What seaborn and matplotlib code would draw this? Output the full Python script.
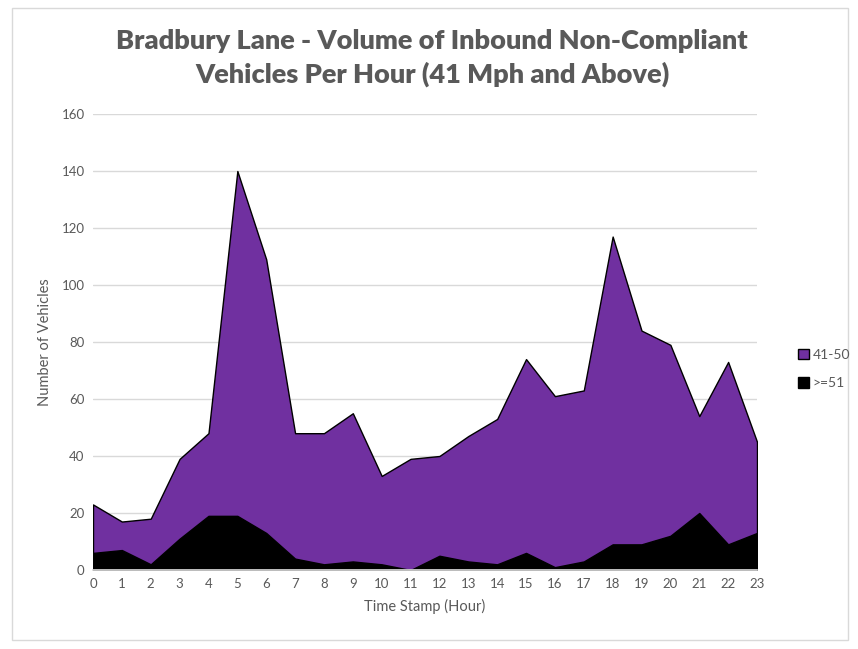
import matplotlib
matplotlib.use("Agg")
import matplotlib.pyplot as plt
import seaborn as sns
import numpy as np
import pandas as pd
from matplotlib.patches import Rectangle

hours = list(range(24))
total = [23, 17, 18, 39, 48, 140, 109, 48, 48, 55, 33, 39, 40, 47, 53, 74, 61, 63, 117, 84, 79, 54, 73, 45]
over51 = [6, 7, 2, 11, 19, 19, 13, 4, 2, 3, 2, 0, 5, 3, 2, 6, 1, 3, 9, 9, 12, 20, 9, 13]
s41_50 = [t - o for t, o in zip(total, over51)]
series_names = [">=51", "41-50"]
colors = ["#000000", "#7030A0"]

df = pd.DataFrame({"hour": hours, ">=51": over51, "41-50": s41_50})

sns.set_theme(style="white")
plt.rcParams['font.family'] = ['Lato', 'DejaVu Sans']

fig = plt.figure(figsize=(8.58, 6.49), dpi=100)
ax = fig.add_axes([93/858, 1-570/649, (757-93)/858, (570-114)/649])

ax.stackplot(df["hour"], df[">=51"], df["41-50"], colors=colors,
             labels=series_names, edgecolor="black", linewidth=1.0)

ax.set_xlim(0, 23)
ax.set_ylim(0, 160)
ax.set_yticks(range(0, 161, 20))
ax.set_xticks(hours)
ax.yaxis.grid(True, color="#d9d9d9", linewidth=1)
ax.set_axisbelow(True)
for s in ["top", "right", "left"]:
    ax.spines[s].set_visible(False)
ax.spines["bottom"].set_color("#d9d9d9")
ax.tick_params(axis="both", colors="#595959", labelsize=9.5, length=0, pad=6)

ax.set_xlabel("Time Stamp (Hour)", color="#595959", fontsize=10.5, labelpad=6)
ax.set_ylabel("Number of Vehicles", color="#595959", fontsize=10.5, labelpad=7)

fig.text(432/858, 1-58/649, "Bradbury Lane - Volume of Inbound Non-Compliant\nVehicles Per Hour (41 Mph and Above)",
         ha="center", va="center", fontsize=19.5, fontweight="heavy", color="#595959", linespacing=1.45)

handles, labels = ax.get_legend_handles_labels()
leg = fig.legend(handles[::-1], labels[::-1], loc="center left", bbox_to_anchor=(785/858, 1-369/649),
                 frameon=False, fontsize=10, handlelength=0.8, handleheight=0.8, handletextpad=0.3,
                 labelspacing=1.2, labelcolor="#595959")

fig.patches.append(Rectangle((12/858, 1-640/649), 836/858, 632/649, transform=fig.transFigure,
                             fill=False, edgecolor="#d9d9d9", linewidth=1))

fig.savefig("out.png", dpi=100)
